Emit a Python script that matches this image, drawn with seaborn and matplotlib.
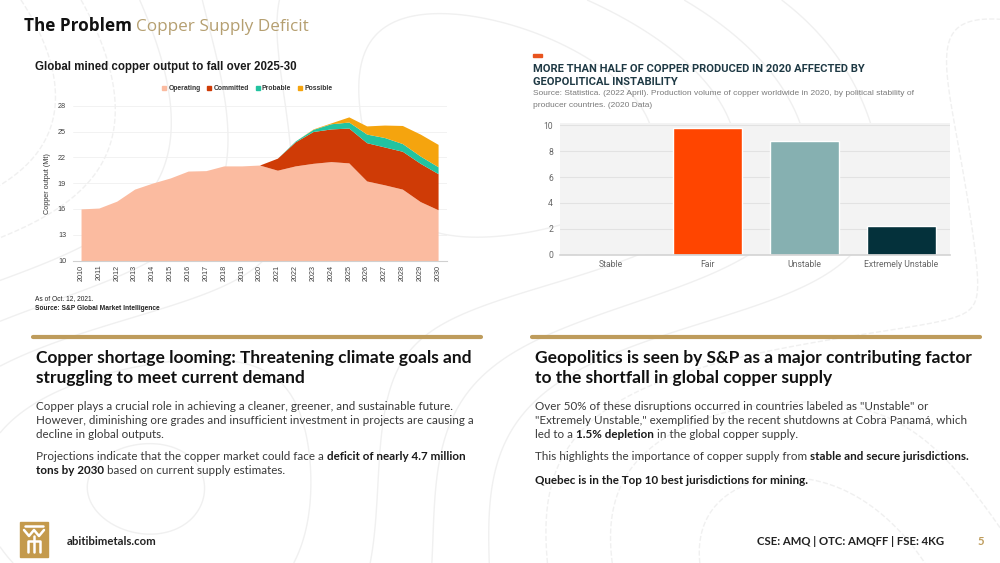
import matplotlib
matplotlib.use("Agg")
import matplotlib.pyplot as plt
import matplotlib.patches as mpatches
from matplotlib.lines import Line2D
import numpy as np
import pandas as pd
import seaborn as sns

# ---- data ----
years = list(range(2010, 2031))
operating = [16.0, 16.1, 16.9, 18.3, 19.0, 19.6, 20.4, 20.45, 21.0, 21.0, 21.1,
             20.5, 21.0, 21.3, 21.5, 21.35, 19.25, 18.8, 18.3, 16.85, 15.9]
committed = [0] * 11 + [1.4, 2.8, 3.7, 3.8, 4.05, 4.45, 4.4, 4.4, 4.45, 4.2]
probable = [0] * 12 + [0.1, 0.25, 0.6, 0.7, 1.0, 1.1, 0.9, 0.85, 0.8]
possible = [0] * 13 + [0.05, 0.1, 0.6, 0.95, 1.45, 2.1, 2.55, 2.6]
series_names = ["Operating", "Committed", "Probable", "Possible"]
y_ticks_left = [10, 13, 16, 19, 22, 25, 28]

stability = ["Stable", "Fair", "Unstable", "Extremely Unstable"]
volume = [0, 9.8, 8.8, 2.25]

AREA_COLORS = ["#FBBBA0", "#CF3B06", "#22C3A0", "#F5A40E"]
BAR_COLORS = ["#FF4500", "#FF4500", "#86B0B1", "#04313B"]
GOLD = "#BE9C5C"

W, H = 1000, 563
sns.set_theme(style="white")
plt.rcParams["font.family"] = ["Lato", "DejaVu Sans"]

fig = plt.figure(figsize=(10, 5.63), dpi=100)
fig.patch.set_facecolor("white")
renderer = fig.canvas.get_renderer()


def fx(x):
    return x / W


def fy(y):
    return 1 - y / H


def text_width(txt, size, weight, family):
    a = fig.text(0, 0, txt + "|", fontsize=size, fontweight=weight, family=family)
    b = fig.text(0, 0, "|", fontsize=size, fontweight=weight, family=family)
    w = a.get_window_extent(renderer).width - b.get_window_extent(renderer).width
    a.remove()
    b.remove()
    return w


# faint topographic background lines
bg = fig.add_axes([0, 0, 1, 1], zorder=-5)
gx, gy = np.meshgrid(np.linspace(0, 10, 300), np.linspace(0, 5.63, 200))
field = np.sin(0.55 * gx + 0.8 * np.cos(0.7 * gy)) + np.cos(0.45 * gy - 0.3 * gx) \
    + 0.5 * np.sin(0.9 * gx * 0.6 + 1.1 * gy)
bg.contour(gx, gy, field, levels=8, colors="#F0F0F0", linewidths=1.0)
bg.set_xlim(0, 10)
bg.set_ylim(0, 5.63)
bg.axis("off")

# ---- header ----
TITLE_FONT = ["Open Sans", "DejaVu Sans"]
fig.text(fx(24), fy(31), "The Problem", fontsize=12.3, fontweight="bold",
         color="#111111", family=TITLE_FONT, va="baseline")
sub_x = 24 + text_width("The Problem ", 12.3, "bold", TITLE_FONT)
fig.text(fx(sub_x), fy(31), "Copper Supply Deficit", fontsize=12.3,
         color="#B59F70", family=TITLE_FONT, va="baseline")

# ---- left chart: stacked area ----
SMALL = ["Liberation Sans", "DejaVu Sans"]
df = pd.DataFrame({"year": years, "Operating": operating, "Committed": committed,
                   "Probable": probable, "Possible": possible})
ax1 = fig.add_axes([0.073, fy(260.5), 0.374, (260.5 - 105.7) / H])
ax1.stackplot(df["year"], [df[c] for c in series_names], colors=AREA_COLORS,
              linewidth=0)
ax1.set_xlim(2009.55, 2030.5)
ax1.set_ylim(10, 28)
ax1.set_yticks(y_ticks_left)
ax1.set_xticks(years)
ax1.set_xticklabels([str(y) for y in years], rotation=90)
ax1.tick_params(axis="both", labelsize=5.2, colors="#404040", length=0, pad=3)
ax1.tick_params(axis="y", pad=5)
for lab in ax1.get_xticklabels() + ax1.get_yticklabels():
    lab.set_family(SMALL)
ax1.yaxis.grid(True, color="#F0F0F0", linewidth=0.6)
ax1.set_axisbelow(True)
for s in ["top", "right", "left"]:
    ax1.spines[s].set_visible(False)
ax1.spines["bottom"].set_color("#D0D0D0")
ax1.spines["bottom"].set_linewidth(0.8)
ax1.set_facecolor("none")
ax1.set_ylabel("Copper output (Mt)", fontsize=5.2, color="#333333",
               family=SMALL, labelpad=5)
handles = [Line2D([], [], marker="s", linestyle="", markersize=3.3, color=c)
           for c in AREA_COLORS]
ax1.legend(handles, series_names, ncol=4, loc="center", bbox_to_anchor=(0.463, 1.108),
           frameon=False, handletextpad=0.0, columnspacing=0.7, handlelength=1.2,
           prop={"family": SMALL, "size": 4.9, "weight": "bold"},
           labelcolor="#333333")

fig.text(fx(35), fy(70), "Global mined copper output to fall over 2025-30",
         fontsize=8.3, fontweight="bold", color="#1A1A1A",
         family=SMALL, va="baseline")
fig.text(fx(35), fy(300), "As of Oct. 12, 2021.", fontsize=4.8, color="#222222",
         family=SMALL, va="baseline")
fig.text(fx(35), fy(309.5), "Source: S&P Global Market Intelligence", fontsize=4.8,
         fontweight="bold", color="#222222", family=SMALL, va="baseline")

# ---- right chart: bars ----
ax2 = fig.add_axes([0.560, fy(254.7), 0.390, (254.7 - 122.7) / H])
bar_df = pd.DataFrame({"stability": stability, "volume": volume})
sns.barplot(data=bar_df, x="stability", y="volume", hue="stability",
            palette=BAR_COLORS, width=0.71, legend=False, ax=ax2, saturation=1)
ax2.set_xlim(-0.52, 3.5)
ax2.set_ylim(0, 10.2)
ax2.set_yticks([0, 2, 4, 6, 8, 10])
ax2.set_facecolor("#F3F3F3")
ax2.yaxis.grid(True, color="#E2E2E2", linewidth=0.8)
ax2.set_axisbelow(True)
for s in ["top", "right", "left"]:
    ax2.spines[s].set_visible(False)
ax2.spines["bottom"].set_color("#D5D5D5")
ax2.set_xlabel("")
ax2.set_ylabel("")
ax2.tick_params(axis="both", labelsize=6.2, colors="#666666", length=0)
ax2.tick_params(axis="y", pad=5)
ax2.tick_params(axis="x", pad=4)
for lab in ax2.get_xticklabels() + ax2.get_yticklabels():
    lab.set_family(["Roboto", "DejaVu Sans"])

fig.patches.append(mpatches.Rectangle((fx(533), fy(56.5)), 9 / W, 3 / H,
                                      transform=fig.transFigure, color="#E8541E"))
for i, line in enumerate(["MORE THAN HALF OF COPPER PRODUCED IN 2020 AFFECTED BY",
                          "GEOPOLITICAL INSTABILITY"]):
    fig.text(fx(533), fy(72 + 13 * i), line, fontsize=8.0, fontweight="bold",
             color="#1E3944", va="baseline", family=["Roboto", "DejaVu Sans"])
for i, line in enumerate(["Source: Statistica. (2022 April). Production volume of copper "
                          "worldwide in 2020, by political stability of",
                          "producer countries. (2020 Data)"]):
    fig.text(fx(533), fy(95 + 12 * i), line, fontsize=6.0, color="#7A7A7A",
             va="baseline", family=SMALL)

# ---- gold separators ----
for x0, x1 in [(33, 481), (532, 980)]:
    fig.add_artist(Line2D([fx(x0), fx(x1)], [fy(337), fy(337)], color=GOLD,
                          linewidth=3, transform=fig.transFigure))

# ---- text blocks ----
BODY = ["Lato", "DejaVu Sans"]


def rich_line(x, y, parts, size=8.35, color="#3A3A3A"):
    for txt, bold in parts:
        weight = "bold" if bold else "normal"
        fig.text(fx(x), fy(y), txt, fontsize=size, fontweight=weight, family=BODY,
                 color="#1A1A1A" if bold else color, va="baseline")
        x += text_width(txt, size, weight, BODY)


HEAD = 12.5
for i, line in enumerate(["Copper shortage looming: Threatening climate goals and",
                          "struggling to meet current demand"]):
    fig.text(fx(36), fy(363 + 20.5 * i), line, fontsize=HEAD, fontweight="bold",
             color="#111111", family=BODY, va="baseline")
for i, line in enumerate(["Geopolitics is seen by S&P as a major contributing factor",
                          "to the shortfall in global copper supply"]):
    fig.text(fx(535), fy(363 + 20.5 * i), line, fontsize=HEAD, fontweight="bold",
             color="#111111", family=BODY, va="baseline")

rich_line(36, 410, [("Copper plays a crucial role in achieving a cleaner, greener, "
                     "and sustainable future.", False)])
rich_line(36, 424, [("However, diminishing ore grades and insufficient investment in "
                     "projects are causing a", False)])
rich_line(36, 437.5, [("decline in global outputs.", False)])
rich_line(36, 460, [("Projections indicate that the copper market could face a ", False),
                    ("deficit of nearly 4.7 million", True)])
rich_line(36, 474, [("tons by 2030", True), (" based on current supply estimates.", False)])

rich_line(535, 410, [("Over 50% of these disruptions occurred in countries labeled as "
                      "\"Unstable\" or", False)])
rich_line(535, 424, [("\"Extremely Unstable,\" exemplified by the recent shutdowns at "
                      "Cobra Panamá, which", False)])
rich_line(535, 437.5, [("led to a ", False), ("1.5% depletion", True),
                       (" in the global copper supply.", False)])
rich_line(535, 460, [("This highlights the importance of copper supply from ", False),
                     ("stable and secure jurisdictions.", True)])
rich_line(535, 484.5, [("Quebec is in the Top 10 best jurisdictions for mining.", True)])

# ---- footer ----
fig.patches.append(mpatches.Rectangle((fx(20), fy(557)), 28 / W, 35 / H,
                                      transform=fig.transFigure, color="#C49A4C"))
logo = [([24, 29, 34, 39, 44], [530, 536, 530, 536, 530]),
        ([34, 34], [536, 552]), ([28, 28, 40, 40], [552, 541, 541, 552]),
        ([25, 43], [526, 526])]
for xs, ys in logo:
    fig.add_artist(Line2D([fx(v) for v in xs], [fy(v) for v in ys], color="white",
                          linewidth=1.8, transform=fig.transFigure))
fig.text(fx(67), fy(545), "abitibimetals.com", fontsize=8.2, fontweight="bold",
         color="#222222", family=BODY, va="baseline")
fig.text(fx(944), fy(545), "CSE: AMQ | OTC: AMQFF | FSE: 4KG", fontsize=8.2,
         fontweight="bold", color="#222222", family=BODY, va="baseline", ha="right")
fig.text(fx(978), fy(545), "5", fontsize=8.2, fontweight="bold", color=GOLD,
         family=BODY, va="baseline")

fig.savefig("out.png", dpi=100)
